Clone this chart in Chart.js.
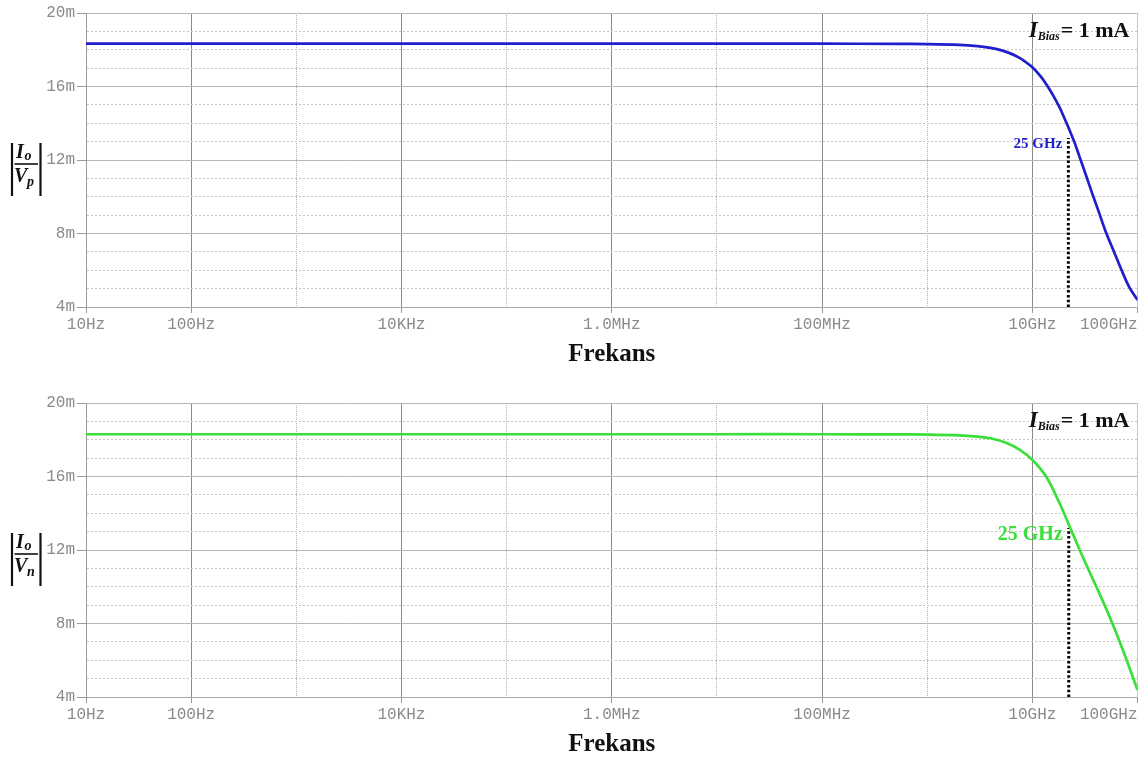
<!DOCTYPE html>
<html><head><meta charset="utf-8">
<script src="https://cdn.jsdelivr.net/npm/chart.js@4/dist/chart.umd.min.js"></script>
<style>
html,body{margin:0;padding:0;background:#fff;overflow:hidden;width:1145px;height:761px}
.wrap{position:absolute;left:0;width:1145px;height:390px}
canvas{display:block}
</style></head><body>
<div class="wrap" style="top:0"><canvas id="c1" width="1145" height="390"></canvas></div>
<div class="wrap" style="top:390px"><canvas id="c2" width="1145" height="390"></canvas></div>
<script>
// ---- data (frequency in Hz, magnitude in mA/V shown as "m") ----
const freqP = [10, 100, 1e3, 1e4, 1e5, 1e6, 1e7, 1e8, 5e8, 1e9, 2e9, 3e9, 4e9, 5e9, 6e9, 7e9, 8e9, 1e10, 1.2e10, 1.4e10, 1.6e10, 1.8e10, 2e10, 2.2e10, 2.5e10, 2.8e10, 3.2e10, 3.7e10, 4.3e10, 5e10, 6e10, 7e10, 8.4e10, 1e11];
const magP  = [18.33, 18.33, 18.33, 18.33, 18.33, 18.33, 18.33, 18.33, 18.32, 18.31, 18.27, 18.2, 18.1, 17.98, 17.83, 17.66, 17.47, 17.05, 16.55, 16.0, 15.45, 14.9, 14.33, 13.78, 13.0, 12.2, 11.25, 10.2, 9.15, 8.08, 6.98, 6.05, 5.05, 4.38];
const freqN = [10, 100, 1e3, 1e4, 1e5, 1e6, 1e7, 1e8, 5e8, 1e9, 2e9, 3e9, 4e9, 5.7e9, 7.6e9, 1e10, 1.36e10, 1.82e10, 2.35e10, 3.03e10, 4.06e10, 5.43e10, 7.26e10, 1e11];
const magN  = [18.3, 18.3, 18.3, 18.3, 18.3, 18.3, 18.3, 18.3, 18.29, 18.28, 18.24, 18.17, 18.08, 17.82, 17.45, 16.91, 15.97, 14.53, 13.06, 11.6, 10.0, 8.37, 6.56, 4.38];
const markerFreqP = [2.2e10, 2.2e10];
const markerMagP  = [4, 13.2];
const markerFreqN = [2.22e10, 2.22e10];
const markerMagN  = [4, 13.2];

// ---- axis ticks & texts ----
const xGridDecades = [10, 100, 1e3, 1e4, 1e5, 1e6, 1e7, 1e8, 1e9, 1e10, 1e11];
const xTickValues = [10, 100, 1e4, 1e6, 1e8, 1e10, 1e11];
const xTickLabels = ['10Hz', '100Hz', '10KHz', '1.0MHz', '100MHz', '10GHz', '100GHz'];
const yTickValues = [4, 8, 12, 16, 20];
const yTickLabels = ['4m', '8m', '12m', '16m', '20m'];
const xTitle = 'Frekans';
const biasMain = 'I', biasSub = 'Bias', biasRest = '= 1 mA';
const cutoffLabel = '25 GHz';
const numMain = 'I', numSub = 'o';
const denMainP = 'V', denSubP = 'p';
const denMainN = 'V', denSubN = 'n';

const SERIF = '"Liberation Serif", "Times New Roman", serif';
const MONO = '"Liberation Mono", "Courier New", monospace';

const annot = {
  id: 'annot',
  afterDraw(chart, args, o) {
    const {ctx, chartArea: a, scales: {x, y}} = chart;
    ctx.save();
    // x tick labels
    ctx.font = '16px ' + MONO;
    ctx.fillStyle = '#8a8a8a';
    ctx.textBaseline = 'middle';
    ctx.textAlign = 'center';
    xTickValues.forEach((v, i) => {
      const t = xTickLabels[i];
      const w = ctx.measureText(t).width;
      let cx = x.getPixelForValue(v);
      if (cx + w / 2 > a.right) cx = a.right - w / 2;
      ctx.fillText(t, cx, a.bottom + 18);
    });
    // I_Bias = 1 mA
    ctx.textBaseline = 'alphabetic';
    ctx.textAlign = 'left';
    ctx.fillStyle = '#111';
    const fBig = 'italic bold 23px ' + SERIF, fSub = 'italic bold 12px ' + SERIF, fRest = 'bold 22px ' + SERIF;
    ctx.font = fBig; const w1 = ctx.measureText(biasMain).width;
    ctx.font = fSub; const w2 = ctx.measureText(biasSub).width;
    ctx.font = fRest; const w3 = ctx.measureText(biasRest).width;
    let bx = a.right - 8 - (w1 + w2 + w3 + 1);
    const by = a.top + 23.5;
    ctx.font = fBig; ctx.fillText(biasMain, bx, by); bx += w1;
    ctx.font = fSub; ctx.fillText(biasSub, bx, by + 3); bx += w2 + 1;
    ctx.font = fRest; ctx.fillText(biasRest, bx, by);
    // cutoff label
    ctx.font = 'bold ' + o.labelSize + 'px ' + SERIF;
    ctx.fillStyle = o.color;
    ctx.textAlign = 'right';
    ctx.fillText(cutoffLabel, x.getPixelForValue(o.markerX) - 6, y.getPixelForValue(o.markerY) + o.labelDy);
    // y-axis title |Io / Vx|
    ctx.strokeStyle = '#111';
    ctx.fillStyle = '#111';
    ctx.lineWidth = 2.2;
    ctx.beginPath();
    ctx.moveTo(12, 143); ctx.lineTo(12, 196);
    ctx.moveTo(40.5, 143); ctx.lineTo(40.5, 196);
    ctx.stroke();
    ctx.lineWidth = 1.6;
    ctx.beginPath(); ctx.moveTo(14.5, 164); ctx.lineTo(38, 164); ctx.stroke();
    ctx.textAlign = 'left';
    ctx.font = 'italic bold 20px ' + SERIF; ctx.fillText(numMain, 16, 158);
    ctx.font = 'italic bold 14px ' + SERIF; ctx.fillText(numSub, 24.5, 160);
    ctx.font = 'italic bold 20px ' + SERIF; ctx.fillText(o.denMain, 14, 182);
    ctx.font = 'italic bold 14px ' + SERIF; ctx.fillText(o.denSub, 27, 186);
    ctx.restore();
  }
};

function decade(v) { return Math.round(Math.log10(v)); }

function makeChart(id, freq, mag, mFreq, mMag, color, labelSize, labelDy, denMain, denSub) {
  const pts = freq.map((f, i) => ({x: f, y: mag[i]}));
  const mpts = mFreq.map((f, i) => ({x: f, y: mMag[i]}));
  return new Chart(document.getElementById(id), {
    type: 'scatter',
    data: {
      datasets: [
        {data: pts, showLine: true, borderColor: color, borderWidth: 2.7, pointRadius: 0, tension: 0.35, fill: false},
        {data: mpts, showLine: true, borderColor: '#000', borderWidth: 3, borderDash: [2.5, 2.3], pointRadius: 0, fill: false}
      ]
    },
    options: {
      responsive: false,
      animation: false,
      devicePixelRatio: 1,
      layout: {padding: {top: 13, right: 7.5, left: 0, bottom: 0}},
      plugins: {
        legend: {display: false},
        tooltip: {enabled: false},
        annot: {color: color, labelSize: labelSize, labelDy: labelDy, markerX: mFreq[1], markerY: mMag[1], denMain: denMain, denSub: denSub}
      },
      scales: {
        x: {
          type: 'logarithmic',
          min: 10, max: 1e11,
          afterBuildTicks(s) { s.ticks = xGridDecades.map(v => ({value: v})); },
          afterFit(s) { s.height = 390 - 307; s.paddingLeft = 0; s.paddingRight = 0; },
          ticks: {display: false, autoSkip: false},
          grid: {
            drawTicks: true, tickLength: 6,
            color(c) {
              if (!c.tick) return '#999';
              const d = decade(c.tick.value);
              if (d === 11) return '#c6c6c6';
              if (d === 1) return '#999';
              return d % 2 === 0 ? '#8a8a8a' : '#b6b6b6';
            },
            lineWidth: 1,
            tickColor: '#999',
            tickWidth(c) {
              if (!c.tick) return 0;
              const d = decade(c.tick.value);
              return (d === 1 || d === 11 || d % 2 === 0) ? 1 : 0;
            }
          },
          border: {
            display: true, color: '#aaa', width: 1,
            dash(c) {
              if (!c.tick) return [];
              const d = decade(c.tick.value);
              return (d !== 1 && d !== 11 && d % 2 === 1) ? [1, 1] : [];
            }
          },
          title: {display: true, text: xTitle, color: '#111', font: {family: SERIF, size: 25, weight: 'bold'}, padding: {top: 0, bottom: 20}}
        },
        y: {
          min: 4, max: 20,
          afterFit(s) { s.width = 86; s.paddingTop = 0; s.paddingBottom = 0; },
          ticks: {
            stepSize: 1, autoSkip: false, padding: 2,
            color: '#8a8a8a', font: {family: MONO, size: 16},
            callback(v) { const i = yTickValues.indexOf(v); return i >= 0 ? yTickLabels[i] : ''; }
          },
          grid: {
            drawTicks: true, tickLength: 9,
            color(c) {
              if (!c.tick) return '#bbb';
              return c.tick.value % 4 === 0 ? '#b8b8b8' : '#c6c6c6';
            },
            lineWidth: 1,
            tickColor: '#999',
            tickWidth(c) { return c.tick && c.tick.value % 4 === 0 ? 1 : 0; }
          },
          border: {
            display: true, color: '#999', width: 1,
            dash(c) { return c.tick && c.tick.value % 4 !== 0 ? [2, 2] : []; }
          }
        }
      }
    },
    plugins: [annot]
  });
}

makeChart('c1', freqP, magP, markerFreqP, markerMagP, '#1f1fcc', 15, 10, denMainP, denSubP);
makeChart('c2', freqN, magN, markerFreqN, markerMagN, '#3adf3a', 20, 12, denMainN, denSubN);
</script>
</body></html>
